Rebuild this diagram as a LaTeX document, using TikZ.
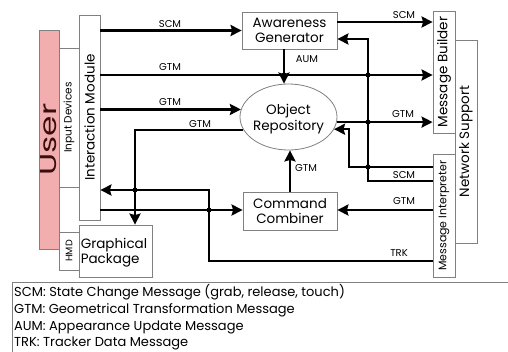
\documentclass[tikz,border=0pt]{standalone}
\usepackage{fontspec}
\setmainfont{Poppins}
\usetikzlibrary{arrows.meta,calc,shapes.geometric}
\definecolor{boxgray}{HTML}{808080}
\definecolor{userpink}{HTML}{F2AEAE}
\definecolor{userdark}{HTML}{3A0E0E}
\newcommand{\fs}[1]{\fontsize{#1}{#1}\selectfont}
\begin{document}
\begin{tikzpicture}[x=1pt,y=-1pt,
  box/.style={draw=boxgray,line width=0.8pt,inner sep=0pt,rectangle},
  vtxt/.style={rotate=90,inner sep=0pt,font=\fs{13}},
  btxt/.style={align=center,inner sep=0pt,font=\fs{13.5},text depth=0pt},
  conn/.style={line width=2.4pt,draw=black},
  arr/.style={conn,-{Stealth[length=11pt,width=11pt,inset=1.5pt]}},
  lbl/.style={inner sep=0pt,font=\fs{10}},
  dot/.style={circle,fill=black,inner sep=0pt,minimum size=5pt},
  legtxt/.style={anchor=base west,inner sep=0pt,font=\fs{13}}]
\useasboundingbox (0,0) rectangle (508,351);
\clip (0,0) rectangle (508,351);
\fill[white] (0,0) rectangle (508,351);
% helper columns / rows
\coordinate (c135) at (135,0);
\coordinate (c209) at (209,0);
\coordinate (c284) at (284,0);
\coordinate (c349) at (349,0);
\coordinate (c368) at (368,0);
\coordinate (r22) at (0,22);
\coordinate (r39) at (0,39);
\coordinate (r75) at (0,75);
\coordinate (r167) at (0,167);
\coordinate (r181) at (0,181);
\coordinate (r190) at (0,190);
\coordinate (r210) at (0,210);
\coordinate (r261) at (0,261);
% boxes
\node[box,fill=userpink,minimum width=20pt,minimum height=219pt] (user) at (49,139.5) {};
\node[box,minimum width=20pt,minimum height=139pt] (indev) at (69,117.5) {};
\node[box,minimum width=20pt,minimum height=38pt] (hmd) at (69,251) {};
\node[box,minimum width=21pt,minimum height=205pt] (im) at (89.5,117.5) {};
\node[box,minimum width=73pt,minimum height=52pt] (gp) at (115.5,251) {};
\node[box,minimum width=95pt,minimum height=37pt] (ag) at (289.5,30.5) {};
\node[draw=boxgray,line width=0.8pt,ellipse,inner sep=0pt,minimum width=97pt,minimum height=66pt] (orep) at (288.5,117) {};
\node[box,minimum width=94pt,minimum height=38pt] (cc) at (290,211) {};
\node[box,minimum width=22pt,minimum height=122pt] (mb) at (444,72) {};
\node[box,minimum width=22pt,minimum height=203pt] (ns) at (466,141.5) {};
\node[box,fill=white,minimum width=22pt,minimum height=123pt] (mi) at (444,215.5) {};
% texts in boxes
\node[rotate=90,inner sep=0pt,text=userdark] (usert) at (user.center) {\resizebox{72pt}{16pt}{\fs{20}User}};
\node[vtxt,font=\fs{10.5}] (indevt) at (indev.center) {Input Devices};
\node[vtxt,font=\fs{9.5}] (hmdt) at (hmd.center) {HMD};
\node[vtxt,font=\fs{13.5}] (imt) at (im.center) {Interaction Module};
\node[vtxt,font=\fs{13.5}] (mbt) at (mb.center) {Message Builder};
\node[vtxt,font=\fs{13.5}] (nst) at (ns.center) {Network Support};
\node[vtxt,font=\fs{11}] (mit) at (mi.center) {Message Interpreter};
\node[btxt,align=left,anchor=west] (gpt) at ([xshift=2pt]gp.west) {Graphical\\[1pt]Package};
\node[btxt] (agt) at (ag.center) {Awareness\\[1pt]Generator};
\node[btxt] (ccc) at (cc.center) {Command\\[1pt]Combiner};
\node[btxt] (orept) at (orep.center) {Object\\[1pt]Repository};
% connectors
\draw[arr] (im.east |- ag.west) -- (ag.west);
\draw[arr] (ag.east |- r22) -- (mb.west |- r22);
\draw[arr] (im.east |- r75) -- (mb.west |- r75);
\draw[arr] (c284 |- ag.south) -- (c284 |- orep.north);
\draw[arr] (im.east |- orep.171.6) -- (orep.171.6);
\draw[arr] (orep.196) -| (c135 |- gp.north);
\draw[arr] (orep.-6) -- (orep.-6 -| mb.west);
\draw[arr] (mi.west |- r181) -| (c368 |- r39) -- (ag.east |- r39);
\draw[arr] (mi.west |- r167) -| (c349 |- orep.-15) -- (orep.-15);
\draw[arr] (cc.north) -- (cc.north |- orep.south);
\draw[arr] (mi.west |- r210) -- (cc.east |- r210);
\draw[arr] (im.east |- r210) -- (cc.west |- r210);
\draw[arr] (mi.west |- r261) -| (c209 |- r190) -- (im.east |- r190);
% junction dots
\node[dot] (d1) at (c284 |- r75) {};
\node[dot] (d2) at (c368 |- r75) {};
\node[dot] (d3) at (c368 |- orep.-6) {};
\node[dot] (d4) at (c368 |- r167) {};
\node[dot] (d5) at (c135 |- r190) {};
\node[dot] (d6) at (c209 |- r210) {};
% connector labels
\node[lbl] (l1) at (170,24) {SCM};
\node[lbl] (l2) at (404,15) {SCM};
\node[lbl] (l3) at (170,67) {GTM};
\node[lbl] (l4) at (307,59) {AUM};
\node[lbl] (l5) at (170,102) {GTM};
\node[lbl] (l6) at (200,124) {GTM};
\node[lbl] (l7) at (306,168) {GTM};
\node[lbl] (l8) at (403,114) {GTM};
\node[lbl] (l9) at (404,175) {SCM};
\node[lbl] (l10) at (404,201) {GTM};
\node[lbl] (l11) at (399,253) {TRK};
% legend
\draw[boxgray,line width=0.8pt] (12,360) -- (12,282) -- (515,282);
\node[legtxt] (leg1) at (14,296) {SCM: State Change Message (grab, release, touch)};
\node[legtxt] (leg2) at (14,313) {GTM: Geometrical Transformation Message};
\node[legtxt] (leg3) at (14,330) {AUM: Appearance Update Message};
\node[legtxt] (leg4) at (14,346.5) {TRK: Tracker Data Message};
\end{tikzpicture}
\end{document}
